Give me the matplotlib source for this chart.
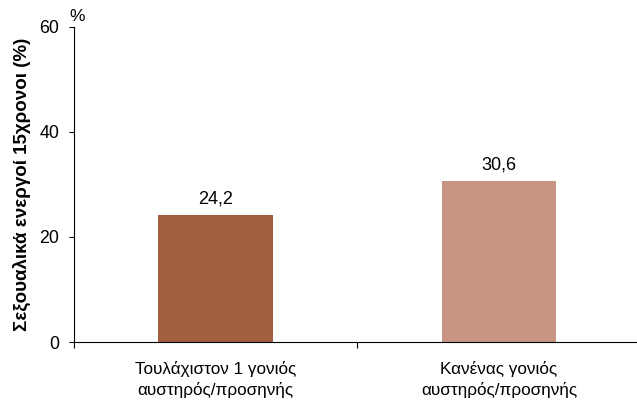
import matplotlib.pyplot as plt
import numpy as np

plt.rcParams['font.family'] = ['Liberation Sans', 'DejaVu Sans']

categories = ['Τουλάχιστον 1 γονιός\nαυστηρός/προσηνής', 'Κανένας γονιός\nαυστηρός/προσηνής']
values = [24.2, 30.6]
colors = ['#A0603F', '#C89583']

fig = plt.figure(figsize=(6.37, 4.01), dpi=100)
ax = fig.add_axes([0.116, 0.147, 0.884, 0.786])

x = np.arange(len(categories))
bars = ax.bar(x, values, width=0.405, color=colors)
for xi, v in zip(x, values):
    ax.text(xi, v + 1.4, '{:.1f}'.format(v).replace('.', ','), ha='center', va='bottom', fontsize=13)

ax.set_xlim(-0.5, 1.487)
ax.set_ylim(0, 60)
ax.set_yticks([0, 20, 40, 60])
ax.tick_params(axis='y', labelsize=12.8, length=3.6, width=0.8, pad=7)
ax.set_xticks(x)
ax.set_xticklabels(categories, fontsize=12.3, linespacing=1.35)
ax.tick_params(axis='x', length=0, pad=14)
ax.set_xticks([-0.5, 0.5], minor=True)
ax.tick_params(axis='x', which='minor', length=4, width=0.8)

for s in ['top', 'right']:
    ax.spines[s].set_visible(False)
for s in ['left', 'bottom']:
    ax.spines[s].set_linewidth(0.8)

ax.set_ylabel('Σεξουαλικά ενεργοί 15χρονοι (%)', fontsize=13.5, fontweight='bold', labelpad=6)
ax.text(0.005, 1.01, '%', transform=ax.transAxes, ha='center', va='bottom', fontsize=12.5)

fig.savefig('out.png', dpi=100)
